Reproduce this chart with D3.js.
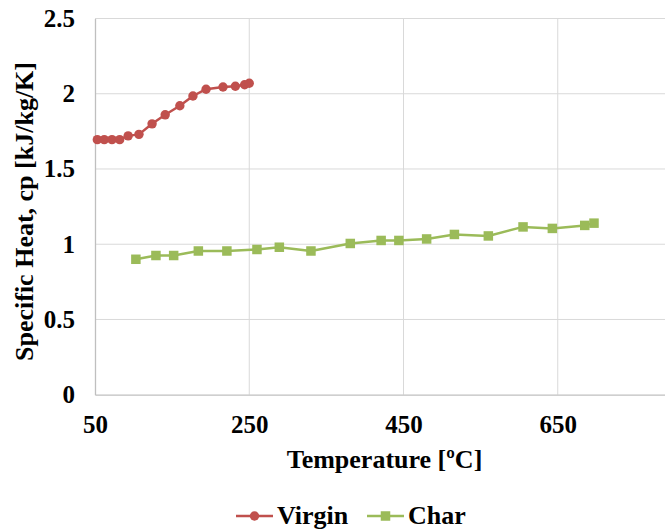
<!DOCTYPE html>
<html>
<head>
<meta charset="utf-8">
<script src="https://cdn.jsdelivr.net/npm/d3@7"></script>
<style>
  body { margin: 0; background: #fff; }
  svg { display: block; }
</style>
</head>
<body>
<svg id="chart" width="665" height="532"></svg>
<script>
const virginTemp = [53, 62, 72, 82, 93, 107, 124, 141, 160, 177, 194, 216, 232, 244, 250];
const virginCp   = [1.695, 1.695, 1.695, 1.695, 1.72, 1.73, 1.80, 1.86, 1.92, 1.985, 2.03, 2.045, 2.05, 2.06, 2.07];
const charTemp = [103, 129, 152, 184, 221, 260, 289, 330, 381, 421, 444, 480, 516, 560, 605, 643, 685, 697];
const charCp   = [0.90, 0.925, 0.925, 0.955, 0.955, 0.965, 0.98, 0.955, 1.005, 1.025, 1.025, 1.035, 1.065, 1.055, 1.115, 1.105, 1.125, 1.14];
const xTicks = [50, 250, 450, 650, 850];
const yTicks = [0, 0.5, 1, 1.5, 2, 2.5];
const yTickLabels = ["0", "0.5", "1", "1.5", "2", "2.5"];
const seriesNames = ["Virgin", "Char"];
const seriesColors = ["#c0504d", "#9bbb59"];

function styleText(sel, size) {
  sel.style("font-family", "Liberation Serif, serif")
     .style("font-size", size + "px")
     .style("font-weight", "700")
     .style("fill", "#000");
}

const svg = d3.select("#chart");
const x = d3.scaleLinear().domain([50, 850]).range([95, 712]);
const y = d3.scaleLinear().domain([0, 2.5]).range([394.7, 18.5]);

// grid
const grid = svg.append("g");
grid.selectAll(".hg").data(yTicks.filter(d => d > 0)).enter().append("line")
  .attr("x1", x(50)).attr("x2", x(850))
  .attr("y1", d => y(d)).attr("y2", d => y(d))
  .attr("stroke", "#d9d9d9").attr("stroke-width", 1);
grid.selectAll(".vg").data(xTicks.filter(d => d > 50)).enter().append("line")
  .attr("x1", d => x(d)).attr("x2", d => x(d))
  .attr("y1", y(0)).attr("y2", y(2.5))
  .attr("stroke", "#d9d9d9").attr("stroke-width", 1);

// axes
const xAxis = d3.axisBottom(x).tickValues(xTicks.slice(0, 4)).tickSize(0).tickPadding(21).tickFormat(d3.format("d"));
const gx = svg.append("g").attr("transform", `translate(0,${y(0)})`).call(xAxis);
gx.select(".domain").attr("stroke", "#bfbfbf").attr("stroke-width", 1.3);
styleText(gx.selectAll("text"), 25);

const yAxis = d3.axisLeft(y).tickValues(yTicks).tickSize(0).tickPadding(20).tickFormat((d, i) => yTickLabels[i]);
const gy = svg.append("g").attr("transform", `translate(${x(50)},0)`).call(yAxis);
gy.select(".domain").attr("stroke", "#bfbfbf").attr("stroke-width", 1.3);
styleText(gy.selectAll("text"), 25);

// series
const virgin = virginTemp.map((t, i) => [t, virginCp[i]]);
const charD = charTemp.map((t, i) => [t, charCp[i]]);
const line = d3.line().x(d => x(d[0])).y(d => y(d[1]));

svg.append("path").datum(charD).attr("d", line).attr("fill", "none")
  .attr("stroke", seriesColors[1]).attr("stroke-width", 2.5).attr("stroke-linejoin", "round");
svg.selectAll(".cm").data(charD).enter().append("rect")
  .attr("x", d => x(d[0]) - 4.75).attr("y", d => y(d[1]) - 4.75)
  .attr("width", 9.5).attr("height", 9.5).attr("fill", seriesColors[1]);

svg.append("path").datum(virgin).attr("d", line).attr("fill", "none")
  .attr("stroke", seriesColors[0]).attr("stroke-width", 2.5).attr("stroke-linejoin", "round");
svg.selectAll(".vm").data(virgin).enter().append("circle")
  .attr("cx", d => x(d[0])).attr("cy", d => y(d[1])).attr("r", 4.7)
  .attr("fill", seriesColors[0]);

// axis titles
styleText(svg.append("text").attr("x", 384.5).attr("y", 468).attr("text-anchor", "middle")
  .text("Temperature [ºC]"), 26);
styleText(svg.append("text").attr("transform", "translate(33,211.5) rotate(-90)").attr("text-anchor", "middle")
  .text("Specific Heat, cp [kJ/kg/K]"), 26);

// legend
const leg = svg.append("g");
const legX = [236, 367];
seriesNames.forEach((n, i) => {
  const g = leg.append("g").attr("transform", `translate(${legX[i]},516)`);
  g.append("line").attr("x1", 0).attr("x2", 37).attr("y1", 0).attr("y2", 0)
    .attr("stroke", seriesColors[i]).attr("stroke-width", 2.5);
  if (i === 0) g.append("circle").attr("cx", 18.5).attr("cy", 0).attr("r", 4.7).attr("fill", seriesColors[i]);
  else g.append("rect").attr("x", 13.75).attr("y", -4.75).attr("width", 9.5).attr("height", 9.5).attr("fill", seriesColors[i]);
  styleText(g.append("text").attr("x", 41).attr("y", 8).text(n), 26);
});
</script>
</body>
</html>
